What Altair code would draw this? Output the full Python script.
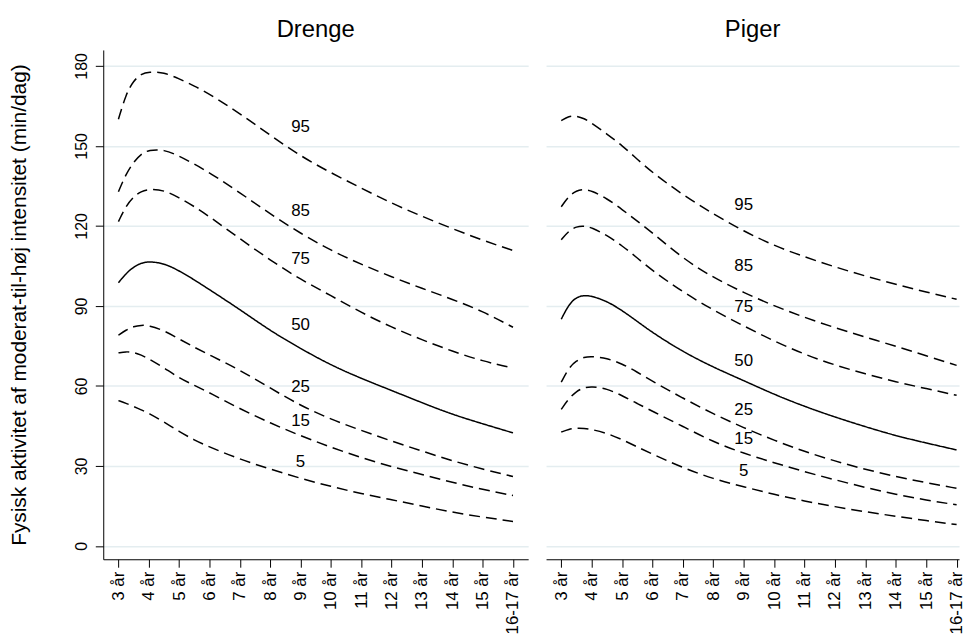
import altair as alt
import pandas as pd

# Age grid (years) on which the percentile curves are tabulated
ages = [3.0, 3.25, 3.5, 3.75, 4.0, 4.5, 5, 5.5, 6, 7, 8, 9, 10, 11, 12, 13, 14, 15, 16]

# Tick positions and their labels on the age axis
tick_ages = [3, 4, 5, 6, 7, 8, 9, 10, 11, 12, 13, 14, 15, 16]
tick_labels = ["3 år", "4 år", "5 år", "6 år", "7 år", "8 år", "9 år", "10 år",
               "11 år", "12 år", "13 år", "14 år", "15 år", "16-17 år"]

percentiles = [95, 85, 75, 50, 25, 15, 5]

# Boys (Drenge): minutes per day of moderate-to-vigorous activity
boys_p95 = [160.0, 169.5, 174.5, 177.0, 177.8, 177.6, 175.2, 172.5, 169.5, 162.2, 154.0, 146.2, 139.9, 134.2, 128.5, 123.6, 119.0, 114.6, 110.8]
boys_p85 = [132.8, 139.5, 144.0, 147.0, 148.5, 148.7, 146.2, 143.2, 140.0, 132.5, 124.5, 117.2, 110.8, 105.6, 100.9, 96.6, 92.5, 88.0, 82.0]
boys_p75 = [121.6, 127.5, 131.0, 133.0, 133.8, 133.5, 130.6, 127.3, 123.5, 115.2, 107.2, 99.9, 93.9, 87.5, 82.0, 77.3, 73.0, 69.3, 66.7]
boys_p50 = [98.7, 102.2, 104.6, 106.1, 106.7, 106.0, 103.2, 99.8, 96.1, 88.7, 80.7, 74.0, 67.8, 62.8, 58.3, 53.7, 49.3, 45.8, 42.4]
boys_p25 = [79.0, 81.0, 82.3, 82.8, 82.7, 80.8, 77.6, 74.5, 71.6, 66.0, 59.2, 52.6, 47.5, 43.3, 39.3, 35.6, 31.9, 28.8, 26.0]
boys_p15 = [72.4, 72.9, 72.6, 71.6, 70.2, 66.8, 63.0, 60.2, 57.5, 51.4, 46.1, 41.3, 37.0, 33.1, 29.7, 26.8, 23.8, 21.2, 18.9]
boys_p5 = [54.5, 53.5, 52.3, 51.0, 49.8, 46.5, 42.9, 39.7, 37.1, 32.5, 28.8, 25.3, 22.3, 19.6, 17.3, 15.0, 12.6, 10.8, 9.2]

# Girls (Piger)
girls_p95 = [159.5, 161.2, 161.3, 160.3, 158.6, 154.5, 150.2, 145.0, 140.0, 131.6, 124.5, 118.0, 112.6, 108.4, 104.6, 101.2, 98.1, 95.2, 92.5]
girls_p85 = [127.2, 131.2, 133.3, 133.7, 133.2, 130.3, 126.2, 121.8, 117.4, 107.8, 100.6, 95.0, 90.0, 85.7, 81.8, 78.3, 74.9, 71.3, 67.7]
girls_p75 = [114.8, 118.2, 119.8, 120.0, 119.4, 116.5, 112.6, 108.0, 103.2, 95.2, 88.4, 82.5, 76.8, 71.8, 67.8, 64.5, 61.5, 59.0, 56.5]
girls_p50 = [85.0, 90.6, 93.3, 94.0, 93.7, 91.8, 88.3, 84.2, 80.0, 72.8, 67.0, 62.0, 56.8, 52.3, 48.3, 44.7, 41.3, 38.6, 36.0]
girls_p25 = [61.4, 66.8, 69.5, 70.8, 71.1, 70.4, 68.3, 65.2, 61.7, 55.4, 49.5, 44.3, 39.6, 35.4, 31.8, 28.7, 26.0, 23.7, 21.6]
girls_p15 = [51.2, 55.3, 58.0, 59.4, 59.8, 59.0, 56.4, 53.4, 50.5, 44.8, 39.0, 34.7, 31.2, 27.8, 24.8, 21.9, 19.3, 17.2, 15.4]
girls_p5 = [42.7, 43.8, 44.2, 44.1, 43.7, 42.3, 39.9, 37.1, 34.4, 29.3, 25.1, 22.2, 19.3, 16.8, 14.7, 12.8, 11.1, 9.5, 8.0]

# Curve labels, written at age 9
label_age = 9
boys_label_y = [157.0, 125.5, 107.6, 82.8, 59.5, 47.0, 31.6]
girls_label_y = [127.8, 104.8, 89.7, 69.4, 51.1, 40.0, 28.1]

boys_curves = [boys_p95, boys_p85, boys_p75, boys_p50, boys_p25, boys_p15, boys_p5]
girls_curves = [girls_p95, girls_p85, girls_p75, girls_p50, girls_p25, girls_p15, girls_p5]

FONT = "Liberation Sans"
GRID = "#E4EDF0"


def long_table(curves):
    rows = []
    for p, vals in zip(percentiles, curves):
        for a, v in zip(ages, vals):
            rows.append({"pct": p, "age": a, "value": v,
                         "style": "solid" if p == 50 else "dashed"})
    return pd.DataFrame(rows)


def label_table(ys):
    return pd.DataFrame({"pct": [str(p) for p in percentiles],
                         "age": [label_age] * len(ys), "value": ys})


label_expr = "{" + ",".join(f"'{a}':'{l}'" for a, l in zip(tick_ages, tick_labels)) + "}[datum.value]"

y_scale = alt.Scale(domain=[-5, 186], nice=False, zero=False)


def panel(curves, label_ys, title, x_max, width, show_y):
    x = alt.X("age:Q",
              scale=alt.Scale(domain=[2.5, x_max], nice=False, zero=False),
              axis=alt.Axis(values=tick_ages, labelExpr=label_expr, labelAngle=-90,
                            grid=False, title=None, labelFontSize=17, labelFont=FONT,
                            labelColor="black", tickColor="black", domainColor="black",
                            tickSize=8, labelPadding=4, labelFlush=False,
                            labelOverlap=False, labelBound=False))
    if show_y:
        yaxis = alt.Axis(values=[0, 30, 60, 90, 120, 150, 180], labelAngle=-90,
                         labelAlign="center", labelBaseline="bottom",
                         title="Fysisk aktivitet af moderat-til-høj intensitet (min/dag)",
                         titleFont=FONT, titleFontSize=21, titleFontWeight="normal",
                         titleColor="black", titlePadding=44,
                         labelFontSize=16, labelFont=FONT, labelColor="black",
                         tickColor="black", domainColor="black", tickSize=8,
                         labelPadding=6, gridColor=GRID, gridWidth=1.5,
                         labelOverlap=False)
    else:
        yaxis = alt.Axis(values=[0, 30, 60, 90, 120, 150, 180], labels=False,
                         ticks=False, domain=False, title=None,
                         gridColor=GRID, gridWidth=1.5)
    y = alt.Y("value:Q", scale=y_scale, axis=yaxis)

    lines = alt.Chart(long_table(curves)).mark_line(
        interpolate="basis", color="black", strokeWidth=1.5
    ).encode(
        x=x, y=y, detail="pct:N",
        strokeDash=alt.StrokeDash("style:N",
                                  scale=alt.Scale(domain=["solid", "dashed"],
                                                  range=[[1, 0], [11, 6]]),
                                  legend=None),
    )
    labels = alt.Chart(label_table(label_ys)).mark_text(
        font=FONT, fontSize=17, color="black", align="center", baseline="middle"
    ).encode(x=x, y=y, text="pct:N")

    return alt.layer(lines, labels).properties(
        width=width, height=513,
        title=alt.TitleParams(title, font=FONT, fontSize=24, fontWeight="normal",
                              color="black", anchor="middle", offset=8),
    )


left = panel(boys_curves, boys_label_y, "Drenge", 16.5, 428, True)
right = panel(girls_curves, girls_label_y, "Piger", 16.08, 416, False)

chart = alt.hconcat(left, right, spacing=18).properties(
    padding={"left": 8, "top": 16, "right": 0, "bottom": 0},
    background="white",
).configure_view(stroke=None)

chart.save("out.html", embed_options={"renderer": "svg", "actions": False})
